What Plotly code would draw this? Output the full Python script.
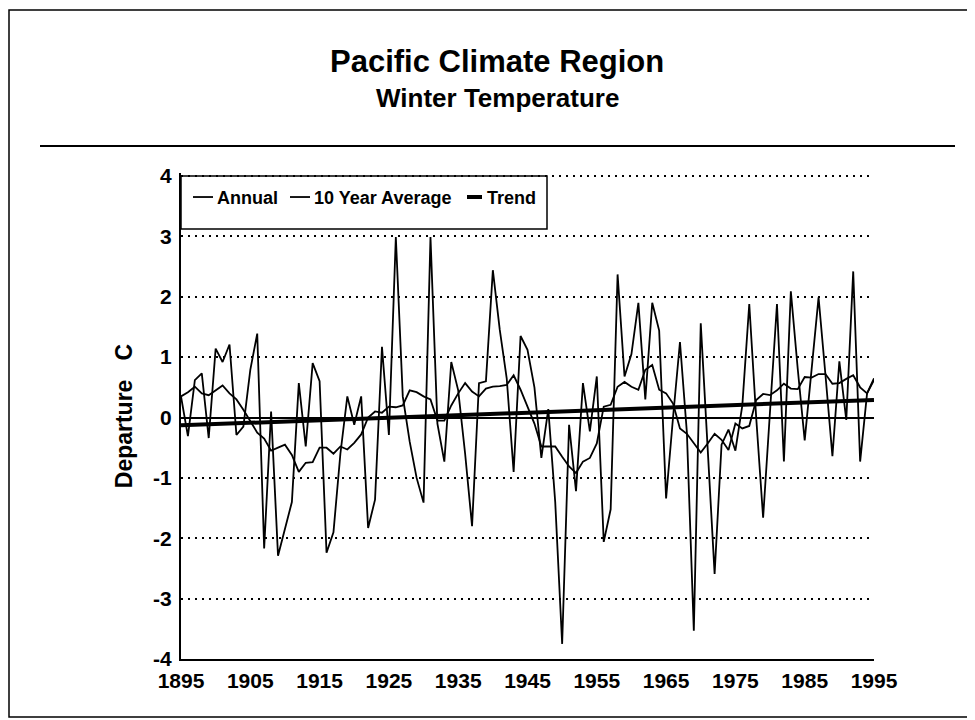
import plotly.graph_objects as go

# ---- data ----
start_year = 1895
annual = [0.35, -0.31, 0.62, 0.73, -0.34, 1.14, 0.92, 1.21, -0.29, -0.15,
          0.79, 1.39, -2.17, 0.10, -2.29, -1.85, -1.40, 0.57, -0.48, 0.90,
          0.60, -2.24, -1.90, -0.60, 0.35, -0.12, 0.35, -1.83, -1.36, 1.17,
          -0.29, 2.99, 0.35, -0.40, -1.00, -1.41, 2.99, -0.10, -0.73, 0.92,
          0.45, -0.60, -1.80, 0.57, 0.60, 2.44, 1.45, 0.65, -0.90, 1.35,
          1.12, 0.50, -0.67, 0.14, -1.40, -3.75, -0.12, -1.22, 0.57, -0.23,
          0.68, -2.06, -1.52, 2.37, 0.68, 1.05, 1.90, 0.30, 1.90, 1.44,
          -1.34, 0.00, 1.25, -0.25, -3.53, 1.56, -0.50, -2.59, -0.45, -0.20,
          -0.55, 0.20, 1.88, 0.00, -1.66, 0.20, 1.88, -0.73, 2.09, 0.80,
          -0.38, 0.80, 1.99, 0.70, -0.64, 0.93, -0.04, 2.42, -0.73, 0.40,
          0.65]
ten_year_avg = [0.35, 0.42, 0.51, 0.40, 0.37, 0.45, 0.53, 0.40, 0.30, 0.13,
                -0.05, -0.25, -0.35, -0.55, -0.50, -0.45, -0.62, -0.90, -0.75, -0.74,
                -0.50, -0.50, -0.60, -0.48, -0.53, -0.42, -0.28, 0.00, 0.10, 0.08,
                0.18, 0.17, 0.20, 0.45, 0.42, 0.35, 0.30, -0.05, -0.05, 0.20,
                0.40, 0.57, 0.43, 0.35, 0.48, 0.51, 0.52, 0.54, 0.70, 0.46,
                0.18, -0.10, -0.48, -0.48, -0.48, -0.65, -0.81, -0.92, -0.73, -0.67,
                -0.43, 0.18, 0.21, 0.51, 0.59, 0.51, 0.46, 0.79, 0.87, 0.46,
                0.40, 0.23, -0.18, -0.27, -0.43, -0.58, -0.43, -0.27, -0.37, -0.54,
                -0.10, -0.18, -0.14, 0.29, 0.39, 0.37, 0.45, 0.56, 0.48, 0.47,
                0.67, 0.66, 0.72, 0.72, 0.56, 0.57, 0.64, 0.70, 0.50, 0.40,
                0.62]
trend_years = [1895, 1995]
trend_values = [-0.13, 0.29]
x_tick_years = [1895, 1905, 1915, 1925, 1935, 1945, 1955, 1965, 1975, 1985, 1995]
y_ticks = [-4, -3, -2, -1, 0, 1, 2, 3, 4]
series_names = ["Annual", "10 Year Average", "Trend"]

years = [start_year + i for i in range(len(annual))]

FONT = "Liberation Sans, Arial, Helvetica, sans-serif"
OFF = 8  # the page body margin shifts the figure by 8 px

fig = go.Figure()
fig.add_trace(go.Scatter(x=years, y=annual, mode="lines", name=series_names[0],
                         line=dict(color="black", width=1.8)))
fig.add_trace(go.Scatter(x=years, y=ten_year_avg, mode="lines", name=series_names[1],
                         line=dict(color="black", width=1.8)))
fig.add_trace(go.Scatter(x=trend_years, y=trend_values, mode="lines", name=series_names[2],
                         line=dict(color="black", width=4)))

# plot area in screen pixels: x 181..874 ; y = 4 at 176, y = -4 at 659
SX0, SX1, SY4, SYM4 = 181, 874, 176, 659
X0, X1 = SX0 - OFF, SX1 - OFF
YB = SYM4 - OFF
unit = (SYM4 - SY4) / 8.0
YMAX = 4.05
YT = (SY4 - OFF) - (YMAX - 4) * unit
PW, PH = X1 - X0, YB - YT


def px(sx):
    return (sx - OFF - X0) / PW


def py(sy):
    return (YB - (sy - OFF)) / PH


shapes = [
    # page frame (right side lies outside the window)
    dict(type="rect", xref="paper", yref="paper", x0=px(9), x1=px(990), y0=py(717), y1=py(10),
         line=dict(color="black", width=1.5), layer="below"),
    # rule under the titles
    dict(type="line", xref="paper", yref="paper", x0=px(40), x1=px(955), y0=py(146), y1=py(146),
         line=dict(color="black", width=2)),
    # legend box
    dict(type="rect", xref="paper", yref="paper", x0=0, x1=px(547), y0=py(229), y1=py(SY4),
         line=dict(color="black", width=1.5), fillcolor="white", layer="below"),
]

# legend: sample line + label for each series (screen px)
legend_items = [  # (sample start, sample end, label start, line width)
    (193, 213, 215, 1.8),
    (290, 310, 312, 1.8),
    (467, 482, 485, 4),
]
annotations = [
    dict(text="Pacific Climate Region", xref="paper", yref="paper", x=px(497), y=py(61),
         xanchor="center", yanchor="middle", showarrow=False,
         font=dict(family=FONT, size=31, color="black", weight="bold")),
    dict(text="Winter Temperature", xref="paper", yref="paper", x=px(497), y=py(98),
         xanchor="center", yanchor="middle", showarrow=False,
         font=dict(family=FONT, size=26, color="black", weight="bold")),
]
for name, (s0, s1, t0, w) in zip(series_names, legend_items):
    shapes.append(dict(type="line", xref="paper", yref="paper", x0=px(s0), x1=px(s1),
                       y0=py(197), y1=py(197), line=dict(color="black", width=w)))
    annotations.append(dict(text=name, xref="paper", yref="paper", x=px(t0), y=py(198),
                            xanchor="left", yanchor="middle", showarrow=False,
                            font=dict(family=FONT, size=18, color="black", weight="bold")))

fig.update_layout(
    width=975, height=720,
    margin=dict(l=X0, r=975 - X1, t=YT, b=720 - YB, pad=0),
    paper_bgcolor="white", plot_bgcolor="rgba(0,0,0,0)",
    font=dict(family=FONT, color="black"),
    showlegend=False,
    shapes=shapes,
    annotations=annotations,
)

fig.update_xaxes(range=[1895, 1995], tickmode="array", tickvals=x_tick_years,
                 ticktext=[str(v) for v in x_tick_years],
                 showgrid=False, zeroline=False, showline=True, linecolor="black", linewidth=2,
                 ticks="outside", ticklen=2, tickcolor="rgba(0,0,0,0)",
                 tickfont=dict(family=FONT, size=21, color="black", weight="bold"))
fig.update_yaxes(range=[-4, YMAX], tickmode="array", tickvals=y_ticks,
                 ticktext=[str(v) for v in y_ticks],
                 showgrid=True, gridcolor="black", gridwidth=1.5, griddash="2px,5px",
                 zeroline=True, zerolinecolor="black", zerolinewidth=1.6,
                 showline=True, linecolor="black", linewidth=2,
                 ticks="outside", ticklen=3, tickcolor="rgba(0,0,0,0)",
                 tickfont=dict(family=FONT, size=21, color="black", weight="bold"),
                 title=dict(text="Departure\u00a0\u00a0\u00a0C", standoff=14,
                            font=dict(family=FONT, size=23, color="black", weight="bold")))

fig.write_html("out.html")
